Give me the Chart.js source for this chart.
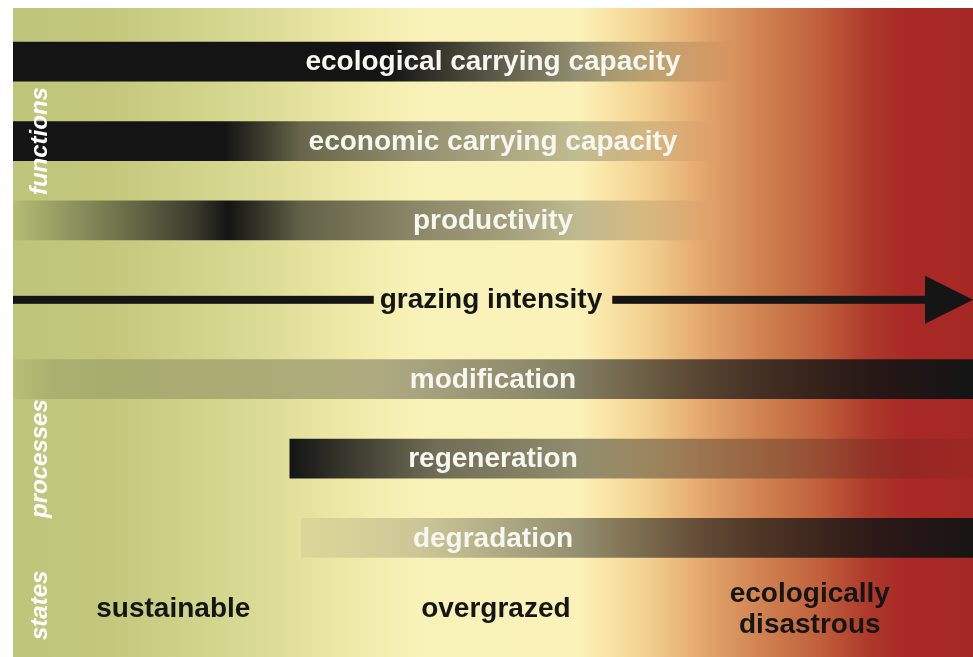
<!DOCTYPE html>
<html>
<head>
<meta charset="utf-8">
<script src="https://cdn.jsdelivr.net/npm/chart.js@4/dist/chart.umd.min.js"></script>
<style>
  html, body { margin: 0; padding: 0; background: #fff; }
  #wrap { width: 973px; height: 657px; }
</style>
</head>
<body>
<div id="wrap"><canvas id="myChart" width="973" height="657"></canvas></div>
<script>
// rows of the diagram, top to bottom
const rows = [
  "ecological carrying capacity",
  "economic carrying capacity",
  "productivity",
  "grazing intensity",
  "modification",
  "regeneration",
  "degradation",
  "states",
];

// intensity along the grazing axis (0-100): [grazing, strength 0..1]
const ecologicalCapacity = [[0, 1], [39, 1], [48, 0.75], [57, 0.5], [66, 0.25], [75, 0]];
const economicCapacity = [[0, 1], [22, 1], [30, 0.6], [44, 0.42], [63, 0.2], [73, 0]];
const productivity = [[0, 0.05], [9, 0.4], [19, 0.8], [22.4, 1], [30, 0.62], [40, 0.5], [51, 0.38], [61, 0.22], [73, 0]];
const modification = [[0, 0.04], [4, 0.12], [18, 0.2], [37, 0.3], [57, 0.5], [76, 0.72], [92, 0.9], [100, 1]];
const regeneration = [[28.8, 1], [34, 0.85], [44, 0.6], [63, 0.42], [83, 0.25], [95, 0.1], [100, 0.05]];
const degradation = [[30, 0.05], [44, 0.22], [57, 0.42], [70, 0.6], [83, 0.75], [100, 0.97]];

const profiles = [ecologicalCapacity, economicCapacity, productivity, null, modification, regeneration, degradation, null];

// states along the grazing axis
const states = ["sustainable", "overgrazed", "ecologically\ndisastrous"];
const stateAt = [16.7, 50.3, 83];

// row groups on the left
const groups = ["functions", "processes", "states"];
const groupRows = [1, 5, 7];

const FONT = '"Liberation Sans", Arial, sans-serif';

// background colour along the grazing axis
const bgStops = [
  [0, "#bec57a"], [9, "#c2c77c"], [25, "#d9da93"], [35, "#efe9a8"], [42, "#f9f2b8"],
  [59, "#faf2b9"], [62, "#f9e3a5"], [66, "#f3d08f"], [72, "#e3a66d"], [78, "#d08250"],
  [84, "#c0603c"], [89, "#ae3a2b"], [93, "#a82925"], [100, "#a62824"],
];

function barColor(ctx) {
  const chart = ctx.chart;
  const prof = profiles[ctx.dataIndex];
  const x = chart.scales.x;
  if (!prof || !chart.chartArea) return "rgba(20,20,20,1)";
  const a = prof[0][0];
  const b = prof[prof.length - 1][0];
  const g = chart.ctx.createLinearGradient(x.getPixelForValue(a), 0, x.getPixelForValue(b), 0);
  prof.forEach((p) => {
    g.addColorStop((p[0] - a) / (b - a), "rgba(20,20,20," + p[1] + ")");
  });
  return g;
}

const backdrop = {
  id: "backdrop",
  beforeDraw(chart) {
    const c = chart.ctx;
    const x = chart.scales.x;
    const area = chart.chartArea;
    const g = c.createLinearGradient(x.getPixelForValue(0), 0, x.getPixelForValue(100), 0);
    bgStops.forEach((s) => g.addColorStop(s[0] / 100, s[1]));
    c.save();
    c.fillStyle = g;
    c.fillRect(area.left, 8, area.right - area.left, chart.height - 8);
    c.restore();
  },
};

const labels = {
  id: "labels",
  afterDatasetsDraw(chart) {
    const c = chart.ctx;
    const x = chart.scales.x;
    const y = chart.scales.y;
    const mid = x.getPixelForValue(50);
    c.save();
    c.textAlign = "center";
    c.textBaseline = "middle";
    c.font = "bold 28px " + FONT;

    // bar names
    rows.forEach((r, i) => {
      if (!profiles[i]) return;
      c.fillStyle = "#f7f7f2";
      c.fillText(r, mid, y.getPixelForValue(i) + 1);
    });

    // grazing intensity arrow
    const ay = y.getPixelForValue(3);
    const tw = c.measureText(rows[3]).width;
    const x0 = x.getPixelForValue(0);
    const x1 = x.getPixelForValue(100);
    const head = 48;
    c.fillStyle = "#151515";
    c.fillRect(x0, ay - 4, mid - tw / 2 - 8 - x0, 8);
    c.fillRect(mid + tw / 2 + 8, ay - 4, x1 - head + 2 - (mid + tw / 2 + 8), 8);
    c.beginPath();
    c.moveTo(x1 - head, ay - 24);
    c.lineTo(x1, ay);
    c.lineTo(x1 - head, ay + 24);
    c.closePath();
    c.fill();
    c.fillText(rows[3], mid - 2, ay);

    // states
    const sy = y.getPixelForValue(7) - 8;
    states.forEach((s, i) => {
      const lines = s.split("\n");
      lines.forEach((l, k) => {
        c.fillText(l, x.getPixelForValue(stateAt[i]), sy + (k - (lines.length - 1) / 2) * 31);
      });
    });

    // group names, rotated
    c.fillStyle = "#ffffff";
    c.font = "italic bold 24px " + FONT;
    groups.forEach((gname, i) => {
      let gy = y.getPixelForValue(groupRows[i]);
      if (i === 2) gy -= 12;
      c.save();
      c.translate(x0 + 27, gy);
      c.rotate(-Math.PI / 2);
      c.fillText(gname, 0, 0);
      c.restore();
    });
    c.restore();
  },
};

const ctx = document.getElementById("myChart").getContext("2d");
const myChart = new Chart(ctx, {
  type: "bar",
  data: {
    labels: rows,
    datasets: [
      {
        data: profiles.map((p) => (p ? [p[0][0], p[p.length - 1][0]] : null)),
        backgroundColor: barColor,
        borderWidth: 0,
        barPercentage: 0.5,
        categoryPercentage: 1,
      },
    ],
  },
  options: {
    indexAxis: "y",
    responsive: false,
    animation: false,
    layout: { padding: { left: 13, top: 22, right: 0, bottom: 0 } },
    plugins: { legend: { display: false }, tooltip: { enabled: false } },
    scales: {
      x: { type: "linear", min: 0, max: 100, display: false },
      y: { display: false, grid: { display: false } },
    },
  },
  plugins: [backdrop, labels],
});
</script>
</body>
</html>
